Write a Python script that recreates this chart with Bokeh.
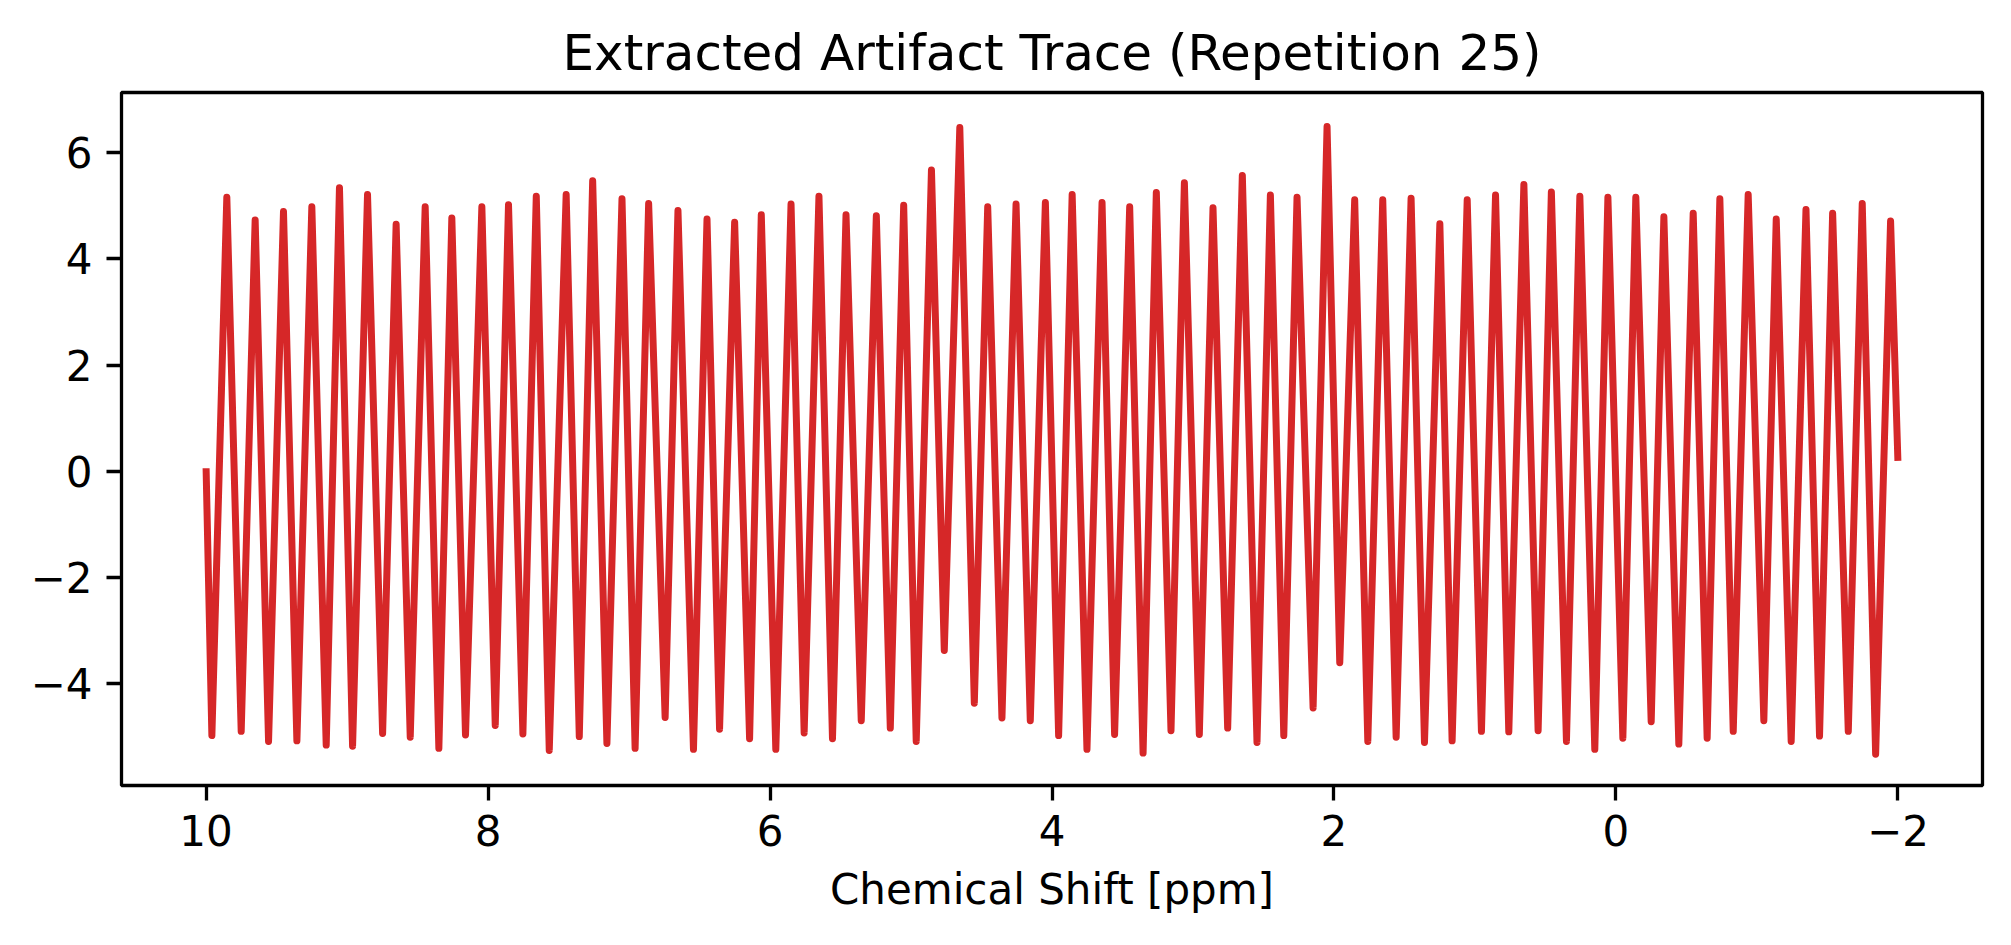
import numpy as np
from bokeh.plotting import figure
from bokeh.models import ColumnDataSource, Range1d, FixedTicker, CustomJSTickFormatter
from bokeh.embed import file_html
from bokeh.resources import INLINE

# values (ppm, amplitude)
start_ppm, start_amp = 10.0, 0.06
end_ppm, end_amp = -2.0, 0.20

peak_ppm = [9.853, 9.652, 9.451, 9.250, 9.054, 8.855, 8.652, 8.446, 8.257, 8.044,
            7.855, 7.658, 7.446, 7.258, 7.050, 6.861, 6.653, 6.447, 6.251, 6.062,
            5.851, 5.653, 5.461, 5.246, 5.052, 4.855, 4.654, 4.456, 4.255, 4.047,
            3.857, 3.645, 3.449, 3.260, 3.061, 2.858, 2.650, 2.451, 2.262, 2.049,
            1.853, 1.654, 1.453, 1.249, 1.055, 0.854, 0.653, 0.458, 0.256, 0.057,
            -0.141, -0.340, -0.548, -0.737, -0.938, -1.137, -1.348, -1.537, -1.747, -1.948]
peak_amp = [5.16, 4.73, 4.89, 4.98, 5.34, 5.21, 4.65, 4.98, 4.77, 4.98,
            5.02, 5.18, 5.21, 5.47, 5.13, 5.04, 4.91, 4.75, 4.69, 4.83,
            5.03, 5.18, 4.83, 4.81, 5.01, 5.67, 6.47, 4.98, 5.03, 5.06,
            5.21, 5.06, 4.98, 5.25, 5.43, 4.96, 5.57, 5.20, 5.16, 6.49,
            5.11, 5.11, 5.14, 4.66, 5.11, 5.20, 5.40, 5.26, 5.18, 5.16,
            5.16, 4.79, 4.86, 5.13, 5.21, 4.75, 4.93, 4.86, 5.04, 4.71]

trough_ppm = [9.959, 9.751, 9.557, 9.356, 9.148, 8.961, 8.748, 8.552, 8.349, 8.160,
              7.949, 7.753, 7.566, 7.353, 7.157, 6.957, 6.744, 6.543, 6.358, 6.145,
              5.959, 5.758, 5.557, 5.353, 5.147, 4.963, 4.764, 4.551, 4.355, 4.154,
              3.953, 3.752, 3.556, 3.354, 3.156, 2.955, 2.754, 2.546, 2.356, 2.148,
              1.959, 1.760, 1.559, 1.358, 1.162, 0.954, 0.760, 0.552, 0.351, 0.150,
              -0.049, -0.250, -0.446, -0.647, -0.832, -1.049, -1.243, -1.444, -1.648, -1.842]
trough_amp = [-4.97, -4.89, -5.08, -5.07, -5.15, -5.17, -4.93, -5.00, -5.21, -4.96,
              -4.78, -4.94, -5.25, -4.99, -5.12, -5.21, -4.63, -5.23, -4.85, -5.03,
              -5.23, -4.92, -5.03, -4.69, -4.83, -5.08, -3.37, -4.36, -4.64, -4.69,
              -4.97, -5.23, -4.95, -5.30, -4.88, -4.95, -4.83, -5.10, -4.97, -4.45,
              -3.60, -5.08, -5.00, -5.10, -5.07, -4.89, -4.90, -4.88, -5.08, -5.23,
              -5.02, -4.71, -5.13, -5.02, -4.89, -4.69, -5.08, -4.98, -4.89, -5.32]

x_ticks = [10, 8, 6, 4, 2, 0, -2]
y_ticks = [-4, -2, 0, 2, 4, 6]

ppm = np.concatenate([[start_ppm], peak_ppm, trough_ppm, [end_ppm]])
amp = np.concatenate([[start_amp], peak_amp, trough_amp, [end_amp]])
order = np.argsort(-ppm)
src = ColumnDataSource(data=dict(ppm=ppm[order], amp=amp[order]))

FONT = "DejaVu Sans"

p = figure(frame_width=1861, frame_height=693,
           min_border_left=121, min_border_right=20, min_border_top=92, min_border_bottom=140,
           x_range=Range1d(10.6, -2.6), y_range=Range1d(-5.91, 7.13),
           title="Extracted Artifact Trace (Repetition 25)",
           x_axis_label="Chemical Shift [ppm]",
           output_backend="svg", toolbar_location=None)

p.line("ppm", "amp", source=src, color="#d62728", line_width=7, line_join="round")

p.background_fill_color = "white"
p.border_fill_color = "white"
p.xgrid.visible = False
p.ygrid.visible = False
p.outline_line_color = "black"
p.outline_line_width = 3.3
p.outline_line_alpha = 1.0

p.title.text_font = FONT
p.title.text_font_size = "50px"
p.title.text_font_style = "normal"
p.title.text_color = "black"
p.title.align = "center"
p.title.standoff = 22

fmt = "return tick < 0 ? '\\u2212' + (-tick) : '' + tick;"
p.xaxis.ticker = FixedTicker(ticks=x_ticks)
p.yaxis.ticker = FixedTicker(ticks=y_ticks)
for ax in p.axis:
    ax.formatter = CustomJSTickFormatter(code=fmt)
    ax.axis_line_color = None
    ax.major_tick_out = 15
    ax.major_tick_in = 0
    ax.major_tick_line_width = 3.3
    ax.major_tick_line_color = "black"
    ax.minor_tick_out = 0
    ax.minor_tick_in = 0
    ax.major_label_text_font = FONT
    ax.major_label_text_font_size = "42px"
    ax.major_label_text_color = "black"
    ax.major_label_standoff = 14
    ax.axis_label_text_font = FONT
    ax.axis_label_text_font_size = "42px"
    ax.axis_label_text_font_style = "normal"
    ax.axis_label_text_color = "black"
    ax.axis_label_standoff = 16

open("out.html", "w").write(file_html(p, INLINE))
